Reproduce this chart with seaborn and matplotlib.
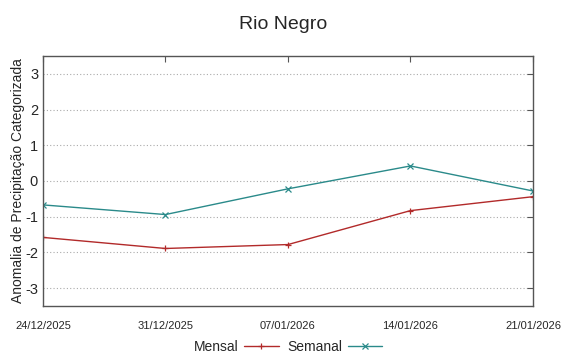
import matplotlib
matplotlib.use("Agg")
import matplotlib.pyplot as plt
import pandas as pd
import seaborn as sns

# valores
datas = ["24/12/2025", "31/12/2025", "07/01/2026", "14/01/2026", "21/01/2026"]
mensal = [-1.58, -1.89, -1.78, -0.83, -0.44]
semanal = [-0.67, -0.94, -0.22, 0.42, -0.28]

df = pd.DataFrame({
    "data": pd.to_datetime(datas, format="%d/%m/%Y").tolist() * 2,
    "valor": mensal + semanal,
    "serie": ["Mensal"] * len(datas) + ["Semanal"] * len(datas),
})

sns.set_style("white")
plt.rcParams["font.family"] = ["Liberation Sans", "DejaVu Sans"]
plt.rcParams["axes.unicode_minus"] = False

fig = plt.figure(figsize=(5.67, 3.54), dpi=100)
ax = fig.add_axes([0.0758, 0.1356, 0.8642, 0.7064])

cores = {"Mensal": "#b22a2a", "Semanal": "#2a8a8a"}
marcadores = {"Mensal": "+", "Semanal": "x"}
for nome in ["Mensal", "Semanal"]:
    sub = df[df["serie"] == nome]
    sns.lineplot(data=sub, x="data", y="valor", ax=ax, color=cores[nome],
                 marker=marcadores[nome], markersize=5, markeredgewidth=0.9,
                 markeredgecolor=cores[nome], linewidth=1, label=nome)

x0, x1 = pd.to_datetime(datas[0], format="%d/%m/%Y"), pd.to_datetime(datas[-1], format="%d/%m/%Y")
ax.set_xlim(x0, x1)
ax.set_ylim(-3.5, 3.5)
ax.set_yticks(range(-3, 4))
ax.set_xticks(pd.to_datetime(datas, format="%d/%m/%Y"))
ax.set_xticklabels(datas, fontsize=8, family=["Liberation Sans Narrow", "Liberation Sans"])
ax.tick_params(axis="y", labelsize=10.5, direction="in", length=4, right=True, color="#555555")
ax.tick_params(axis="x", direction="in", length=4, top=True, pad=11, color="#555555")

ax.yaxis.grid(True, linestyle=(0, (1, 2)), color="#aaaaaa", linewidth=0.8)
ax.xaxis.grid(False)
for s in ax.spines.values():
    s.set_color("#555555")
    s.set_linewidth(1)

ax.set_xlabel("")
ax.set_ylabel("Anomalia de Precipitação Categorizada", fontsize=10, labelpad=0)
fig.suptitle("Rio Negro", fontsize=14, y=0.955)

leg = ax.legend(loc="upper center", bbox_to_anchor=(0.5, -0.137), ncol=2,
                frameon=False, fontsize=10, markerfirst=False,
                handlelength=2.5, columnspacing=0.6, handletextpad=0.4,
                borderaxespad=0, borderpad=0)

fig.savefig("out.png", dpi=100)
